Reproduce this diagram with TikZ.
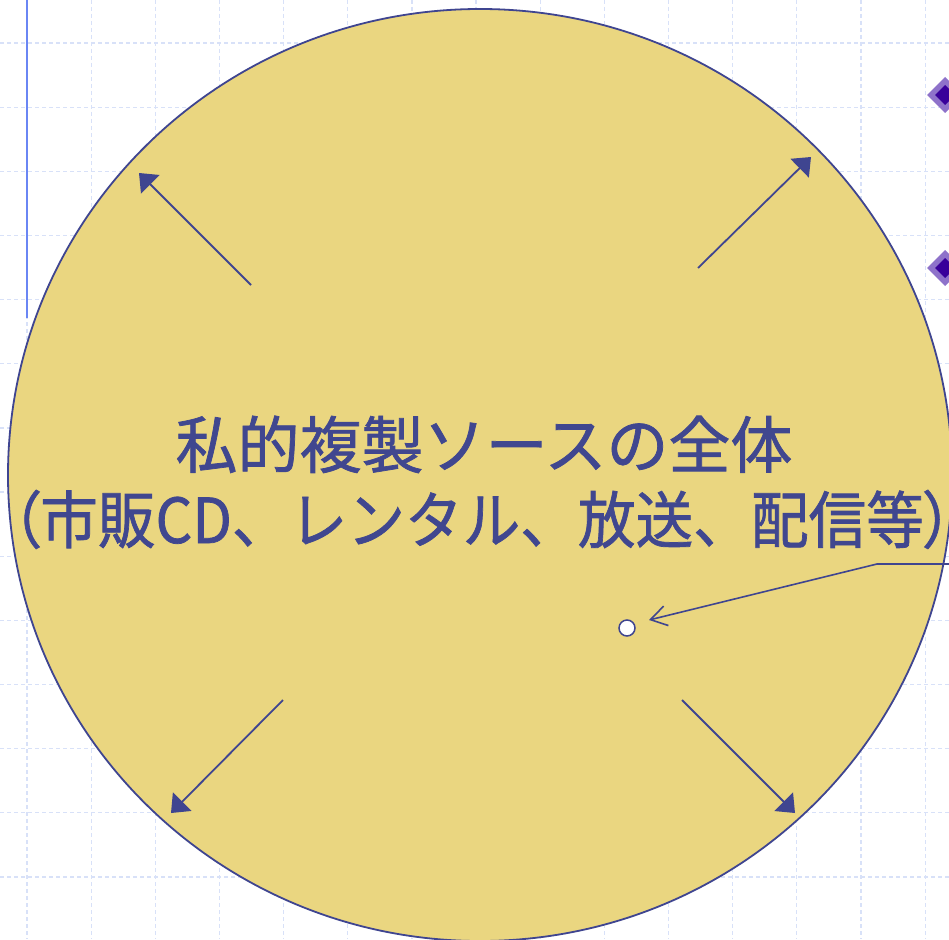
\documentclass[tikz,border=0pt]{standalone}
\usepackage{fontspec}
\newfontfamily\jp[FakeBold=1.2]{Noto Sans CJK JP}
\newfontfamily\jpp[FakeBold=1.2,RawFeature=+palt]{Noto Sans CJK JP}
\usetikzlibrary{arrows.meta,shapes.geometric}
\definecolor{edgeblue}{HTML}{3F4590}
\definecolor{textblue}{HTML}{40478F}
\definecolor{discfill}{HTML}{EAD680}
\definecolor{gridcol}{HTML}{D8E1F8}
\definecolor{railblue}{HTML}{6A86F4}
\definecolor{dlight}{HTML}{8E72CA}
\definecolor{ddark}{HTML}{38009A}
\tikzset{
  gridline/.style={draw=gridcol, line width=1.2pt, dash pattern=on 4pt off 3pt},
  spread/.style={draw=edgeblue, line width=1.8pt, -{Triangle[length=16pt,width=26pt]}},
  pointer/.style={draw=edgeblue, line width=1.6pt, -{Straight Barb[length=16pt,width=20pt,line width=1.6pt]}},
  title/.style={text=textblue, font=\jp\fontsize{62}{62}\selectfont, anchor=base, inner sep=0pt},
}
\begin{document}
\begin{tikzpicture}[x=1pt, y=-1pt]
\useasboundingbox (0,0) rectangle (949,939);
\fill[white] (0,0) rectangle (949,939);
% background grid
\foreach \i in {0,...,14} {
  \draw[gridline] ({27+64.15*\i},0) -- ({27+64.15*\i},939);
}
\foreach \j in {0,...,13} {
  \draw[gridline] (0,{43+64.15*\j}) -- (949,{43+64.15*\j});
}
% left rail
\draw[railblue, line width=1.8pt] (27,0) -- (27,318);
% bullet diamonds at right edge
\foreach \yy in {95,268} {
  \fill[dlight] (927,\yy) -- (945,{\yy-18}) -- (963,\yy) -- (945,{\yy+18}) -- cycle;
  \fill[ddark] (935,\yy) -- (945,{\yy-10}) -- (955,\yy) -- (945,{\yy+10}) -- cycle;
}
% the disc
\node[ellipse, draw=edgeblue, fill=discfill, line width=1.8pt,
      minimum width=944pt, minimum height=932pt, inner sep=0pt] (disc) at (480,475) {};
% spreading arrows
\coordinate (ulS) at (251,285); \coordinate (ulT) at (139,173);
\coordinate (urS) at (698,268); \coordinate (urT) at (811,157);
\coordinate (llS) at (283,700); \coordinate (llT) at (171,813);
\coordinate (lrS) at (682,700); \coordinate (lrT) at (795,813);
\draw[spread] (ulS) -- (ulT);
\draw[spread] (urS) -- (urT);
\draw[spread] (llS) -- (llT);
\draw[spread] (lrS) -- (lrT);
% title
\node[title] (line1) at (484,468) {私的複製ソースの全体};
\node[title, xscale=0.93] (line2) at (482,543) {{\jpp （}市販CD、レンタル、放送、配信等{\jpp ）}};
% small point and pointer
\node[circle, draw=edgeblue, fill=white, line width=1.5pt, minimum size=16pt, inner sep=0pt] (pt) at (627,628) {};
\coordinate (pEnd) at (949,564);
\coordinate (pBend) at (877,564);
\coordinate (pTip) at (649,620);
\draw[pointer] (pEnd) -- (pBend) -- (pTip);
\end{tikzpicture}
\end{document}
